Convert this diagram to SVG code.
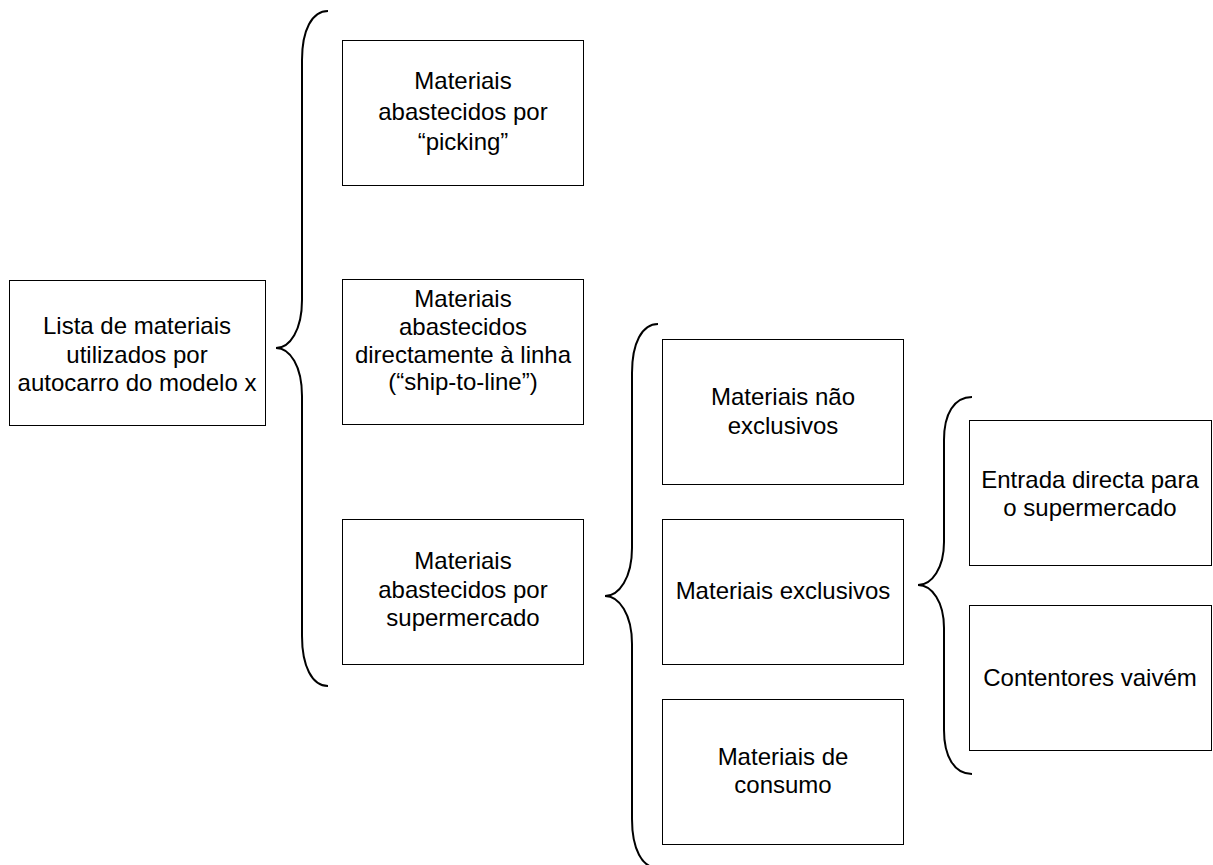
<svg xmlns="http://www.w3.org/2000/svg" width="1213" height="865" viewBox="0 0 1213 865">
  <style>
    .box rect { fill: #fff; stroke: #000; stroke-width: 1; }
    .box text { font-family: "Liberation Sans", Arial, sans-serif; font-size: 24px; fill: #000; text-anchor: middle; }
    .brace { fill: none; stroke: #000; stroke-width: 2; }
  </style>
  <rect width="1213" height="865" fill="#fff"/>

  <!-- curly braces grouping the levels -->
  <g id="connectors">
    <path class="brace" d="M328,11 C312,11 302,30 302,60 L302,300 C302,330 290,348 276,348 C290,348 302,366 302,396 L302,636 C302,666 312,686 328,686"/>
    <path class="brace" d="M658,324 C642,324 632,343 632,373 L632,548 C632,578 619,596 605,596 C619,596 632,614 632,644 L632,819 C632,849 642,868 658,868"/>
    <path class="brace" d="M972,397 C954,397 944,414 944,440 L944,542 C944,568 932,585 918,585 C932,585 944,602 944,628 L944,730 C944,756 954,774 972,774"/>
  </g>

  <g id="lista" class="box">
    <rect x="9.5" y="280.5" width="256" height="145"/>
    <text x="137" y="334">Lista de materiais</text>
    <text x="137" y="363">utilizados por</text>
    <text x="137" y="391">autocarro do modelo x</text>
  </g>

  <g id="picking" class="box">
    <rect x="342.5" y="40.5" width="241" height="145"/>
    <text x="463" y="89">Materiais</text>
    <text x="463" y="120">abastecidos por</text>
    <text x="463" y="150">“picking”</text>
  </g>

  <g id="ship-to-line" class="box">
    <rect x="342.5" y="279.5" width="241" height="145"/>
    <text x="463" y="307">Materiais</text>
    <text x="463" y="335">abastecidos</text>
    <text x="463" y="363">directamente à linha</text>
    <text x="463" y="390">(“ship-to-line”)</text>
  </g>

  <g id="supermercado" class="box">
    <rect x="342.5" y="519.5" width="241" height="145"/>
    <text x="463" y="569">Materiais</text>
    <text x="463" y="598">abastecidos por</text>
    <text x="463" y="626">supermercado</text>
  </g>

  <g id="nao-exclusivos" class="box">
    <rect x="662.5" y="339.5" width="241" height="145"/>
    <text x="783" y="405">Materiais não</text>
    <text x="783" y="434">exclusivos</text>
  </g>

  <g id="exclusivos" class="box">
    <rect x="662.5" y="519.5" width="241" height="145"/>
    <text x="783" y="599">Materiais exclusivos</text>
  </g>

  <g id="consumo" class="box">
    <rect x="662.5" y="699.5" width="241" height="145"/>
    <text x="783" y="765">Materiais de</text>
    <text x="783" y="793">consumo</text>
  </g>

  <g id="entrada-directa" class="box">
    <rect x="969.5" y="420.5" width="242" height="145"/>
    <text x="1090" y="488">Entrada directa para</text>
    <text x="1090" y="516">o supermercado</text>
  </g>

  <g id="contentores" class="box">
    <rect x="969.5" y="605.5" width="242" height="145"/>
    <text x="1090" y="686">Contentores vaivém</text>
  </g>
</svg>
